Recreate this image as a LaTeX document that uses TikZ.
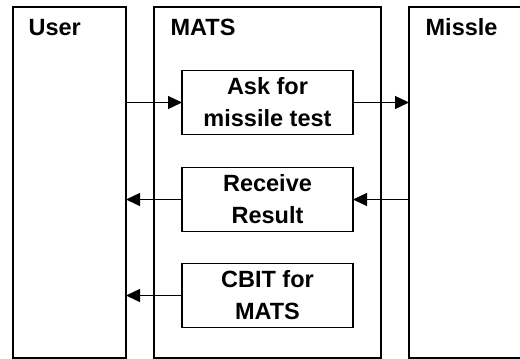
\documentclass[tikz,border=0pt]{standalone}
\usepackage{fontspec}
\setmainfont{Liberation Sans}
\usetikzlibrary{arrows.meta}
\tikzset{>={Triangle[length=14pt,width=13pt]}}
\tikzset{
    lane/.style={draw,line width=1.3pt,inner sep=0pt,outer sep=0pt,
        minimum height=351pt},
    task/.style={draw,line width=1.3pt,inner sep=0pt,outer sep=0pt,
        minimum width=171pt,minimum height=64pt,align=center,
        font=\fontsize{23.5}{32}\selectfont\bfseries},
    title/.style={anchor=base west,inner sep=0pt,
        font=\fontsize{23.5}{28}\selectfont\bfseries}
}

\begin{document}
\begin{tikzpicture}[x=1pt,y=-1pt,line width=1.3pt]
    \clip (0,0) rectangle (520,359);
    % swim lanes
    \node[lane,minimum width=113pt] (user) at (69.5,182.5) {};
    \node[lane,minimum width=227pt] (mats) at (267.5,182.5) {};
    \node[lane,minimum width=160pt] (missle) at (489,182.5) {};
    \node[title] (usertitle) at (28,35) {User};
    \node[title] (matstitle) at (170,35) {MATS};
    \node[title] (missletitle) at (425,35) {Missle};
    % tasks
    \node[task] (ask) at (267.5,102.5) {Ask for\\missile test};
    \node[task] (recv) at (267.5,199.5) {Receive\\Result};
    \node[task] (cbit) at (267.5,295.5) {CBIT for\\MATS};
    % messages
    \draw[->] (user.east |- ask.west)--(ask.west);
    \draw[->] (ask.east)--(missle.west |- ask.east);
    \draw[->] (missle.west |- recv.east)--(recv.east);
    \draw[->] (recv.west)--(user.east |- recv.west);
    \draw[->] (cbit.west)--(user.east |- cbit.west);
\end{tikzpicture}
\end{document}
